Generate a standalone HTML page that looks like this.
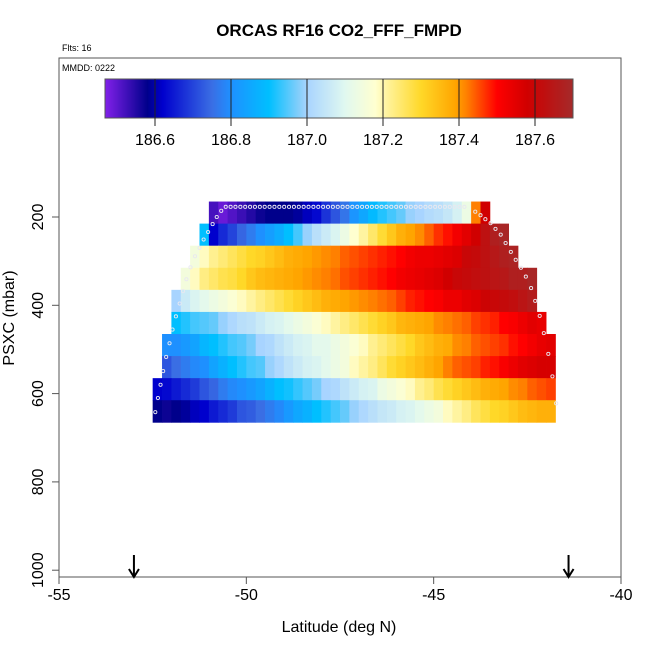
<!DOCTYPE html>
<html><head><meta charset="utf-8"><style>
body{margin:0;background:#fff;}
svg{display:block;font-family:"Liberation Sans",sans-serif;}
</style></head><body>
<svg id="chart" width="650" height="650" viewBox="0 0 650 650">
<text x="339" y="36" text-anchor="middle" font-size="17" font-weight="bold">ORCAS RF16 CO2_FFF_FMPD</text>
<text x="62" y="51" font-size="9">Flts: 16</text>
<g id="cells"></g>
<g id="track"></g>
<rect x="59" y="58" width="562" height="519" fill="none" stroke="#555" stroke-width="1"/>
<text x="62" y="71" font-size="9">MMDD: 0222</text>
<g id="cbar"></g>
<g id="axes"></g>
<text x="339" y="632" text-anchor="middle" font-size="16">Latitude (deg N)</text>
<text transform="translate(14,318) rotate(-90)" text-anchor="middle" font-size="16">PSXC (mbar)</text>
</svg>
<script>
const rowStartCol=[6,5,4,3,2,2,1,1,0,0];
const rowValues=[
[186.52,186.49,186.51,186.53,186.55,186.57,186.58,186.58,186.58,186.59,186.61,186.63,186.68,186.72,186.76,186.81,186.85,186.89,186.92,186.94,186.96,186.99,187.00,187.02,187.03,187.05,187.08,187.13,187.42,187.58],
[186.9,186.62,186.67,186.7,186.74,186.77,186.8,186.83,186.86,186.9,186.94,186.99,187.03,187.06,187.09,187.13,187.18,187.21,187.25,187.29,187.33,187.37,187.39,187.41,187.44,187.47,187.49,187.52,187.55,187.58,187.63,187.67,187.69],
[187.15,187.19,187.22,187.24,187.26,187.28,187.3,187.31,187.33,187.35,187.37,187.38,187.39,187.4,187.41,187.42,187.44,187.45,187.46,187.47,187.48,187.49,187.5,187.52,187.53,187.53,187.54,187.55,187.56,187.6,187.61,187.63,187.65,187.67,187.68],
[187.15,187.19,187.23,187.25,187.27,187.28,187.3,187.33,187.35,187.36,187.37,187.38,187.39,187.4,187.41,187.42,187.43,187.45,187.46,187.47,187.48,187.49,187.5,187.52,187.53,187.54,187.55,187.56,187.58,187.6,187.61,187.62,187.63,187.64,187.65,187.67,187.67,187.69],
[187.0,187.06,187.09,187.11,187.13,187.15,187.17,187.19,187.21,187.23,187.25,187.27,187.29,187.31,187.33,187.35,187.37,187.38,187.39,187.4,187.41,187.42,187.43,187.44,187.46,187.48,187.49,187.5,187.51,187.53,187.53,187.55,187.56,187.59,187.6,187.61,187.62,187.64,187.66],
[186.9,186.92,186.94,186.95,186.96,186.99,187.01,187.03,187.04,187.06,187.08,187.09,187.11,187.13,187.15,187.17,187.19,187.21,187.23,187.25,187.27,187.29,187.31,187.33,187.36,187.37,187.38,187.39,187.41,187.42,187.43,187.44,187.46,187.47,187.48,187.5,187.51,187.53,187.55,187.54],
[186.8,186.8,186.82,186.84,186.88,186.9,186.92,186.94,186.95,186.97,187.0,187.01,187.04,187.06,187.08,187.09,187.11,187.11,187.13,187.15,187.17,187.19,187.22,187.24,187.26,187.28,187.3,187.33,187.35,187.37,187.38,187.41,187.42,187.44,187.45,187.46,187.47,187.49,187.5,187.52,187.54,187.55],
[186.72,186.75,186.77,186.79,186.8,186.84,186.87,186.9,186.92,186.94,186.95,186.99,187.01,187.04,187.06,187.08,187.09,187.11,187.13,187.15,187.19,187.21,187.23,187.26,187.29,187.31,187.33,187.35,187.37,187.39,187.42,187.44,187.45,187.46,187.48,187.49,187.51,187.53,187.55,187.56,187.57,187.57],
[186.62,186.63,186.65,186.67,186.69,186.72,186.74,186.77,186.79,186.8,186.82,186.84,186.87,186.9,186.91,186.93,186.95,186.97,187.0,187.01,187.04,187.06,187.08,187.09,187.13,187.15,187.17,187.19,187.22,187.24,187.27,187.29,187.31,187.33,187.35,187.37,187.38,187.39,187.41,187.42,187.44,187.45,187.46],
[186.58,186.57,186.58,186.59,186.61,186.62,186.65,186.67,186.69,186.72,186.73,186.75,186.77,186.79,186.82,186.85,186.87,186.9,186.92,186.94,186.96,186.99,187.01,187.03,187.05,187.06,187.08,187.09,187.11,187.13,187.15,187.19,187.21,187.23,187.26,187.28,187.3,187.31,187.33,187.35,187.36,187.37,187.37]
];
const rowPressureTop=[165,215,265,315,365,415,465,515,565,615];
const xTicks=[-55,-50,-45,-40];
const yTicks=[200,400,600,800,1000];
const cbarTicks=[186.6,186.8,187.0,187.2,187.4,187.6];
const trackLat=[-50.67,-50.79,-50.90,-51.02,-51.14,-51.25,-51.37,-51.49,-51.60,-51.69,-51.78,-51.88,-51.97,-52.05,-52.14,-52.22,-52.29,-52.36,-52.43,
-43.89,-43.75,-43.62,-43.48,-43.35,-43.21,-43.08,-42.94,-42.81,-42.67,-42.54,-42.40,-42.29,-42.17,-42.06,-41.94,-41.83,-41.73];
const trackP=[186,200,216,234,251,270,289,314,341,368,396,425,455,486,517,549,580,610,642,
188,196,205,214,227,240,259,279,297,315,335,361,390,424,463,510,561,622];
const topLat=[-50.55,-50.42,-50.29,-50.16,-50.03,-49.90,-49.77,-49.64,-49.51,-49.38,-49.25,-49.12,-48.99,-48.86,-48.73,-48.60,-48.47,-48.34,-48.21,-48.08,-47.95,-47.82,-47.69,-47.56,-47.43,-47.30,-47.17,-47.04,-46.91,-46.78,-46.65,-46.52,-46.39,-46.26,-46.13,-46.00,-45.87,-45.74,-45.61,-45.48,-45.35,-45.22,-45.09,-44.96,-44.83,-44.70,-44.57,-44.44,-44.31,-44.18];
const topP=177;
const arrowLat=[-53,-41.4];

const NS='http://www.w3.org/2000/svg';
function xs(lat){return 59+(lat+55)*562/15;}
function ys(p){return 217+(p-200)*0.4415;}
function cx(v){return 155+(v-186.6)*380;}
const stops=[[186.47,'#8020e8'],[186.58,'#00008b'],[186.62,'#0000cd'],[186.75,'#3a6ee4'],[186.8,'#1e90ff'],[186.9,'#00bfff'],[186.98,'#87cefa'],[187.0,'#a8d4ff'],[187.1,'#e0f8f0'],[187.18,'#ffffd0'],[187.22,'#fff090'],[187.3,'#ffd828'],[187.39,'#ffa500'],[187.42,'#ff8000'],[187.5,'#ff0000'],[187.58,'#d00000'],[187.61,'#c40a0a'],[187.7,'#a52a2a']];
function hex(c){return [1,3,5].map(i=>parseInt(c.substr(i,2),16));}
function color(v){
 if(v<=stops[0][0])return stops[0][1];
 for(let i=1;i<stops.length;i++){if(v<=stops[i][0]){const a=hex(stops[i-1][1]),b=hex(stops[i][1]);const t=(v-stops[i-1][0])/(stops[i][0]-stops[i-1][0]);return 'rgb('+a.map((x,k)=>Math.round(x+(b[k]-x)*t)).join(',')+')';}}
 return stops[stops.length-1][1];
}
function mk(tag,attrs,parent){const e=document.createElementNS(NS,tag);for(const k in attrs)e.setAttribute(k,attrs[k]);parent.appendChild(e);return e;}
const cells=document.getElementById('cells');
rowValues.forEach((row,r)=>{
 row.forEach((v,i)=>{
  const lat0=-52.5+(rowStartCol[r]+i)*0.25;
  const x0=xs(lat0),x1=xs(lat0+0.25);
  const e=mk('rect',{x:x0,y:ys(rowPressureTop[r]),width:x1-x0+0.4,height:ys(rowPressureTop[r]+50)-ys(rowPressureTop[r])+0.4,fill:color(v)},cells);
  
  
 });
});
const track=document.getElementById('track');
function dot(lat,p){const c=mk('circle',{cx:xs(lat),cy:ys(p),r:1.6,fill:'none',stroke:'#e8e8f0','stroke-width':0.9},track);
 
 }
trackLat.forEach((l,i)=>dot(l,trackP[i]));
topLat.forEach(l=>dot(l,topP));
const cb=document.getElementById('cbar');
for(let x=105;x<573;x+=1){const v=186.6+(x+0.5-155)/380;mk('rect',{x:x,y:79,width:1.2,height:39,fill:color(v)},cb);}
mk('rect',{x:105,y:79,width:468,height:39,fill:'none',stroke:'#555','stroke-width':1},cb);
cbarTicks.forEach(t=>{const x=cx(t);
 mk('line',{x1:x,y1:79,x2:x,y2:126,stroke:'#222','stroke-width':1},cb);
 const tx=mk('text',{x:x,y:145,'text-anchor':'middle','font-size':16},cb);tx.textContent=t.toFixed(1);
 
 });
const ax=document.getElementById('axes');
xTicks.forEach(t=>{const x=xs(t);mk('line',{x1:x,y1:577,x2:x,y2:584,stroke:'#555'},ax);
 const tx=mk('text',{x:x,y:600,'text-anchor':'middle','font-size':16},ax);tx.textContent=t;
 
 });
yTicks.forEach(t=>{const y=ys(t);mk('line',{x1:52,y1:y,x2:59,y2:y,stroke:'#555'},ax);
 const tx=mk('text',{transform:'translate(43,'+y+') rotate(-90)','text-anchor':'middle','font-size':16},ax);tx.textContent=t;
 
 });
arrowLat.forEach(l=>{const x=xs(l);
 const g=mk('g',{},ax);
 
 
 mk('line',{x1:x,y1:555,x2:x,y2:576,stroke:'#000','stroke-width':2},g);
 mk('polyline',{points:(x-5)+',569 '+x+',577 '+(x+5)+',569',fill:'none',stroke:'#000','stroke-width':2},g);});
</script>
</body></html>
